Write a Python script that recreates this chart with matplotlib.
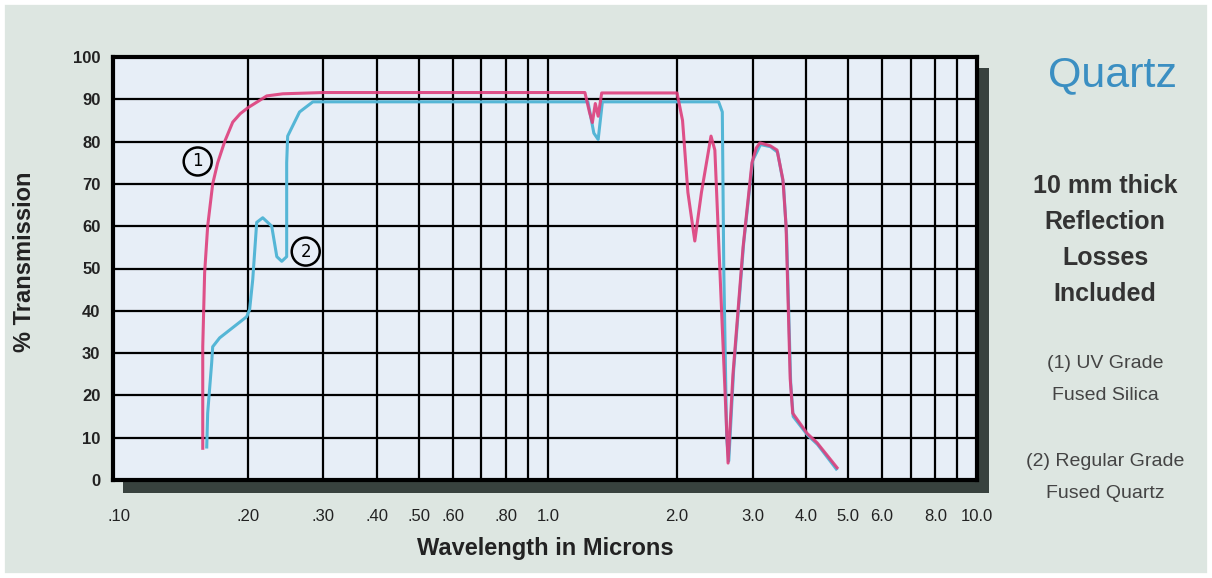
import numpy as np
import matplotlib
matplotlib.use("Agg")
import matplotlib.pyplot as plt
from matplotlib import font_manager
from matplotlib.patches import Rectangle

# narrow face if the system has one
names = {f.name for f in font_manager.fontManager.ttflist}
NARROW = 'Liberation Sans Narrow' if 'Liberation Sans Narrow' in names else 'Liberation Sans'
plt.rcParams['font.family'] = [NARROW, 'DejaVu Sans']

# (1) UV grade fused silica
fs_wl = [0.157, 0.157, 0.1586, 0.1612, 0.1656, 0.1701, 0.1766, 0.1844, 0.192, 0.200, 0.2213,
         0.2412, 0.30, 1.22, 1.25, 1.27, 1.29, 1.31, 1.335, 2.00, 2.06, 2.12, 2.20,
         2.28, 2.40, 2.45, 2.54, 2.63, 2.70, 2.85, 2.99, 3.06, 3.12, 3.30, 3.42, 3.53,
         3.59, 3.67, 3.72, 4.02, 4.24, 4.72]
fs_tr = [7.5, 31.5, 49, 60, 70, 75, 80, 84.6, 86.6, 88, 90.8,
         91.3, 91.6, 91.6, 87, 84.5, 89, 86, 91.5, 91.5, 85, 68, 56.5,
         68, 81.3, 78, 40, 4, 25, 55, 75, 78.5, 79.7, 79, 78, 71,
         60, 24, 15.8, 11, 8.8, 2.9]

# (2) regular grade fused quartz
fq_wl = [0.1604, 0.1612, 0.1647, 0.1656, 0.1719, 0.1987, 0.2019, 0.2053, 0.2097, 0.2166,
         0.2273, 0.2336, 0.2399, 0.2463, 0.2463, 0.2476, 0.2639, 0.2834, 1.24, 1.28,
         1.31, 1.34, 2.50, 2.55, 2.57, 2.61, 2.64, 2.71, 2.86, 3.00, 3.13, 3.30,
         3.43, 3.54, 3.60, 3.68, 3.73, 4.03, 4.25, 4.70]
fq_tr = [7.8, 15.8, 27.7, 31.5, 33.6, 38.6, 40.3, 47.4, 60.9, 62,
         60, 52.8, 51.7, 52.8, 75, 81.3, 87, 89.4, 89.4, 82,
         80.5, 89.4, 89.4, 87, 50, 10, 4.5, 26, 56, 75.5, 79.3, 78.8,
         77.5, 70, 58, 23, 15, 10.6, 8.4, 2.6]

x_ticks = [0.1, 0.2, 0.3, 0.4, 0.5, 0.6, 0.8, 1.0, 2.0, 3.0, 4.0, 5.0, 6.0, 8.0, 10.0]
x_labels = ['.10', '.20', '.30', '.40', '.50', '.60', '.80', '1.0', '2.0', '3.0',
            '4.0', '5.0', '6.0', '8.0', '10.0']
grid_x = [0.2, 0.3, 0.4, 0.5, 0.6, 0.7, 0.8, 0.9, 1, 2, 3, 4, 5, 6, 7, 8, 9]
y_ticks = [0, 10, 20, 30, 40, 50, 60, 70, 80, 90, 100]

BG = '#dde6e1'
PLOT_BG = '#e7eef7'
PINK = '#de3f7c'
CYAN = '#55b6d6'

fig = plt.figure(figsize=(12.12, 5.78), dpi=100, facecolor=BG)
W, H = 1212, 578
ax = fig.add_axes([113 / W, 1 - 480 / H, (977 - 113) / W, (480 - 57) / H])
ax.set_facecolor(PLOT_BG)

# drop shadow behind the frame
fig.patches.append(Rectangle((123 / W, 1 - 493 / H), (989 - 123) / W, (493 - 68) / H,
                             transform=fig.transFigure, fc='#38423e', ec='none', zorder=-1))
# thin white border round the whole figure
fig.patches.append(Rectangle((0, 0), 1, 1, transform=fig.transFigure, fill=False,
                             ec='white', lw=7, zorder=5))

ax.set_xscale('log')
ax.set_xlim(0.097, 10.0)
ax.set_ylim(0, 100)

for gx in grid_x:
    ax.axvline(gx, color='black', lw=1.6, zorder=1)
for gy in y_ticks[1:-1]:
    ax.axhline(gy, color='black', lw=1.6, zorder=1)

ax.plot(fq_wl, fq_tr, color=CYAN, lw=2.2, zorder=3, solid_joinstyle='round')
ax.plot(fs_wl, fs_tr, color=PINK, lw=2.2, zorder=4, alpha=0.9, solid_joinstyle='round')

# curve markers
for num, (cx, cy) in {'1': (0.1528, 75.3), '2': (0.2728, 54)}.items():
    ax.text(cx, cy, num, ha='center', va='center', fontsize=12, zorder=6,
            family='DejaVu Sans',
            bbox=dict(boxstyle='circle,pad=0.3', fc=PLOT_BG, ec='black', lw=1.8))

for s in ax.spines.values():
    s.set_linewidth(3)
    s.set_color('black')

ax.xaxis.set_major_locator(matplotlib.ticker.FixedLocator(x_ticks))
ax.xaxis.set_minor_locator(matplotlib.ticker.NullLocator())
ax.set_xticklabels(x_labels)
ax.set_yticks(y_ticks)
ax.tick_params(axis='both', length=0)
ax.tick_params(axis='x', pad=21, labelsize=12, labelcolor='#222222')
ax.tick_params(axis='y', pad=9, labelsize=12, labelcolor='#222222')
for lab in ax.get_yticklabels():
    lab.set_fontweight('bold')

ax.set_xlabel('Wavelength in Microns', fontsize=17, fontweight='bold', color='#222222',
              labelpad=9)
fig.text(25 / W, 1 - 262 / H, '% Transmission', rotation=90, ha='center', va='center',
         fontsize=17, fontweight='bold', color='#222222')

# side notes
cx = 1105 / W
fig.text(1112 / W, 1 - 75 / H, 'Quartz', ha='center', va='center', fontsize=31,
         color='#3b8fc2')
for i, t in enumerate(['10 mm thick', 'Reflection', 'Losses', 'Included']):
    fig.text(cx, 1 - (186 + 36 * i) / H, t, ha='center', va='center', fontsize=18,
             fontweight='bold', color='#333333')
for yy, t in [(363, '(1) UV Grade'), (396, 'Fused Silica'),
              (462, '(2) Regular Grade'), (493, 'Fused Quartz')]:
    fig.text(cx, 1 - yy / H, t, ha='center', va='center', fontsize=14, color='#444444')

fig.savefig('out.png', dpi=100, facecolor=BG)
